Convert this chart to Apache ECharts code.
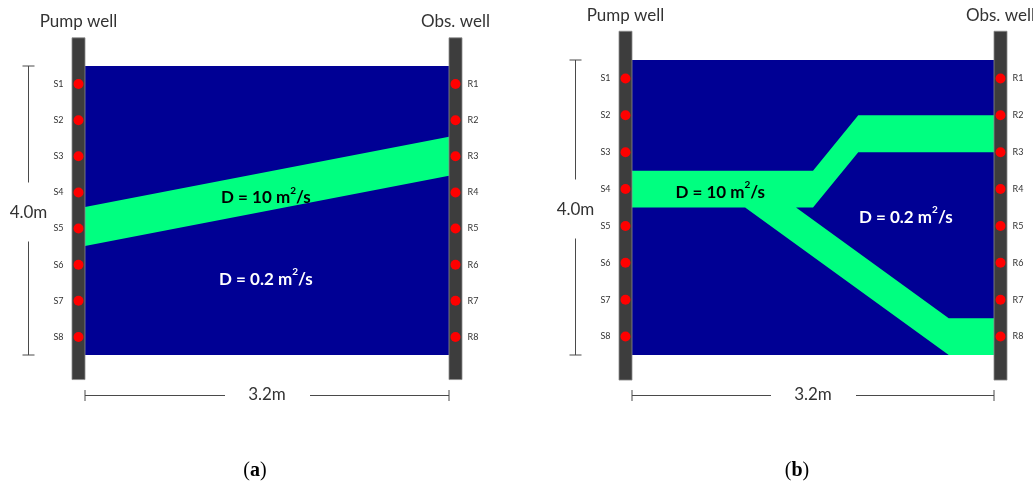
<!DOCTYPE html>
<html><head><meta charset="utf-8">
<script src="https://cdn.jsdelivr.net/npm/echarts@6/dist/echarts.min.js"></script>
<style>html,body{margin:0;padding:0;background:#fff}#c{width:1033px;height:486px}</style>
</head><body><div id="c"></div>
<script>
// ---- data (metres) ----
const domainSize = [3.2, 4.0];
const dimLabels = ['3.2m', '4.0m'];
const sensorDepths = [3.75, 3.25, 2.75, 2.25, 1.75, 1.25, 0.75, 0.25];
const pumpLabels = ['S1', 'S2', 'S3', 'S4', 'S5', 'S6', 'S7', 'S8'];
const obsLabels = ['R1', 'R2', 'R3', 'R4', 'R5', 'R6', 'R7', 'R8'];
const wellNames = ['Pump well', 'Obs. well'];
const wellRange = [-0.34, 4.39];
const zonesA = [
  [[0, 1.51], [3.2, 2.48], [3.2, 3.02], [0, 2.05]]
];
const zonesB = [
  [[0, 2.5], [1.6, 2.5], [2.0, 3.25], [3.2, 3.25], [3.2, 2.75], [2.0, 2.75], [1.6, 2.0],
   [1.45, 2.0], [2.8, 0.5], [3.2, 0.5], [3.2, 0], [2.8, 0], [1.0, 2.0], [0, 2.0]]
];
// [x, y, D value, zone]
const textsA = [[1.59, 2.21, '10', 'high'], [1.59, 1.08, '0.2', 'low']];
const textsB = [[0.78, 2.24, '10', 'high'], [2.42, 1.90, '0.2', 'low']];
const panelLabels = ['a', 'b'];

// ---- styles ----
const BLUE = '#000094', GREEN = '#00FF80', WELL = '#3d3d3d', RED = '#FF0000', INK = '#333333';
const FONT = 'Lato, "Open Sans", sans-serif';

function panelSeries(gi, zones, texts) {
  const base = { type: 'custom', coordinateSystem: 'cartesian2d', xAxisIndex: gi, yAxisIndex: gi, silent: true, animation: false };
  const series = [];
  series.push(Object.assign({}, base, {
    z: 1, data: [[0, 0]],
    renderItem: (p, api) => {
      const a = api.coord([0, 0]), b = api.coord(domainSize);
      return { type: 'rect', shape: { x: a[0], y: b[1], width: b[0] - a[0], height: a[1] - b[1] }, style: { fill: BLUE } };
    }
  }));
  series.push(Object.assign({}, base, {
    z: 2, data: zones.map(() => [0, 0]),
    renderItem: (p, api) => ({ type: 'polygon', shape: { points: zones[p.dataIndex].map(q => api.coord(q)) }, style: { fill: GREEN } })
  }));
  series.push(Object.assign({}, base, {
    z: 3, data: [[0, -1], [domainSize[0], 1]],
    renderItem: (p, api) => {
      const x = api.value(0), side = api.value(1);
      const t = api.coord([x, wellRange[1]]), bt = api.coord([x, wellRange[0]]);
      const left = side < 0 ? t[0] - 13 : t[0];
      return { type: 'group', children: [
        { type: 'rect', shape: { x: left, y: t[1], width: 13, height: bt[1] - t[1] }, style: { fill: WELL, stroke: '#8c8c8c', lineWidth: 0.8 } },
        { type: 'text', x: left + 6.5, y: t[1] - 16, style: { text: wellNames[side < 0 ? 0 : 1], font: '17px ' + FONT, fill: INK, align: 'center', verticalAlign: 'middle' } }
      ] };
    }
  }));
  const sData = [];
  sensorDepths.forEach((d, k) => { sData.push([0, d, -1, k]); sData.push([domainSize[0], d, 1, k]); });
  series.push(Object.assign({}, base, {
    z: 4, data: sData,
    renderItem: (p, api) => {
      const pt = api.coord([api.value(0), api.value(1)]);
      const side = api.value(2), k = api.value(3);
      const cx = pt[0] + side * 6.5;
      return { type: 'group', children: [
        { type: 'circle', shape: { cx: cx, cy: pt[1], r: 5 }, style: { fill: RED } },
        { type: 'text', x: side < 0 ? cx - 15 : cx + 12, y: pt[1], style: { text: side < 0 ? pumpLabels[k] : obsLabels[k], font: '9px ' + FONT, fill: '#333333', align: side < 0 ? 'right' : 'left', verticalAlign: 'middle' } }
      ] };
    }
  }));
  series.push(Object.assign({}, base, {
    z: 5, data: texts.map(t => [t[0], t[1]]),
    renderItem: (p, api) => {
      const t = texts[p.dataIndex];
      const pt = api.coord([t[0], t[1]]);
      const col = t[3] === 'high' ? '#000000' : '#FFFFFF';
      return { type: 'text', x: pt[0], y: pt[1], style: {
        text: '{m|D = ' + t[2] + ' m}{s|2}{m|/s}',
        rich: {
          m: { font: 'bold 17px ' + FONT, fill: col, lineHeight: 22, verticalAlign: 'bottom' },
          s: { font: 'bold 10px ' + FONT, fill: col, lineHeight: 22, verticalAlign: 'top', padding: [1, 0, 0, 0] }
        },
        align: 'center', verticalAlign: 'middle' } };
    }
  }));
  series.push(Object.assign({}, base, {
    z: 5, data: [[0, 0]],
    renderItem: (p, api) => {
      const a = api.coord([0, 0]), b = api.coord(domainSize);
      const ls = { stroke: '#4a4a4a', lineWidth: 1 };
      const xL = Math.round(a[0] - 57) + 0.5, yT = b[1], yB = a[1], midV = (yT + yB) / 2;
      const yD = Math.round(a[1] + 40) + 0.5, x0 = a[0], x1 = b[0], midH = (x0 + x1) / 2;
      const line = (x1_, y1_, x2_, y2_) => ({ type: 'line', shape: { x1: x1_, y1: y1_, x2: x2_, y2: y2_ }, style: ls });
      return { type: 'group', children: [
        line(xL, yT, xL, midV - 28), line(xL, midV + 31, xL, yB),
        line(xL - 6, yT, xL + 6, yT), line(xL - 6, yB, xL + 6, yB),
        { type: 'text', x: xL, y: midV + 2, style: { text: dimLabels[1], font: '17px ' + FONT, fill: INK, align: 'center', verticalAlign: 'middle' } },
        line(x0, yD, midH - 42, yD), line(midH + 43, yD, x1, yD),
        line(x0, yD - 5.5, x0, yD + 5.5), line(x1, yD - 5.5, x1, yD + 5.5),
        { type: 'text', x: midH, y: yD - 1, style: { text: dimLabels[0], font: '17px ' + FONT, fill: INK, align: 'center', verticalAlign: 'middle' } }
      ] };
    }
  }));
  return series;
}

const chart = echarts.init(document.getElementById('c'), null, { renderer: 'canvas' });
const axX = gi => ({ type: 'value', gridIndex: gi, min: 0, max: domainSize[0], show: false });
const axY = gi => ({ type: 'value', gridIndex: gi, min: 0, max: domainSize[1], show: false });
const panelLabel = (lbl, x) => ({ type: 'text', x: x, y: 471, style: { text: '(' + '{b|' + lbl + '})', rich: { b: { fontWeight: 'bold', fontSize: 20, fontFamily: '"Liberation Serif", serif', fill: '#000' } }, font: '20px "Liberation Serif", serif', fill: '#000', align: 'center', verticalAlign: 'middle' } });
chart.setOption({
  animation: false,
  backgroundColor: '#ffffff',
  grid: [
    { left: 85, top: 66, width: 364, height: 289 },
    { left: 632, top: 60, width: 362, height: 295 }
  ],
  xAxis: [axX(0), axX(1)],
  yAxis: [axY(0), axY(1)],
  graphic: [panelLabel(panelLabels[0], 255), panelLabel(panelLabels[1], 797)],
  series: [].concat(panelSeries(0, zonesA, textsA), panelSeries(1, zonesB, textsB))
});
</script></body></html>
